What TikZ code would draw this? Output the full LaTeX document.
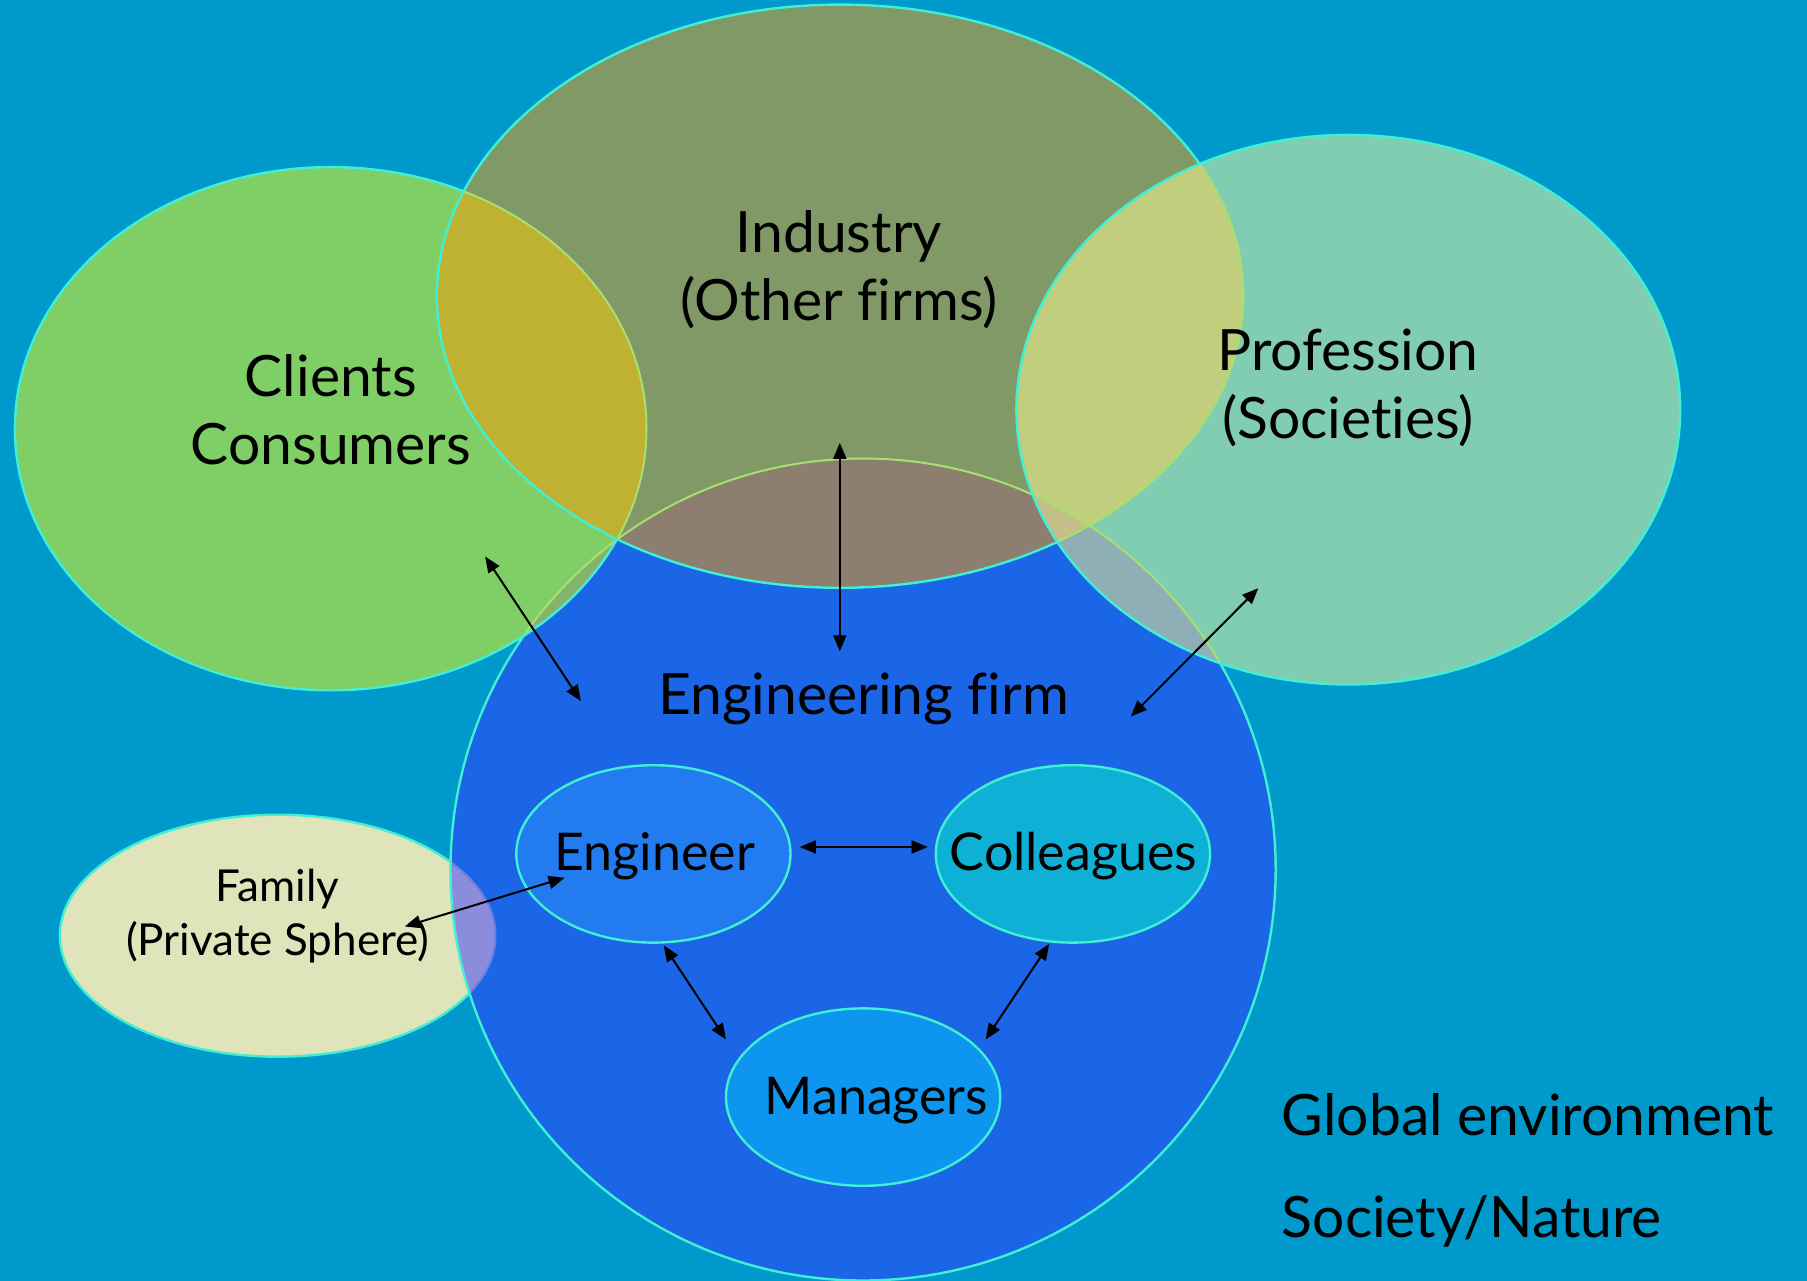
\documentclass[tikz,border=0pt]{standalone}
\usepackage{fontspec}
\setmainfont{Lato}[Ligatures=NoCommon]
\usetikzlibrary{arrows.meta}
\definecolor{bg}{HTML}{0099CC}
\definecolor{famC}{HTML}{E0E4BA}
\definecolor{firmC}{HTML}{1A66E6}
\definecolor{cliC}{HTML}{80CE66}
\definecolor{indC}{HTML}{809966}
\definecolor{proC}{HTML}{80CDB1}
\definecolor{engC}{HTML}{237CEF}
\definecolor{colC}{HTML}{0EB0D6}
\definecolor{manC}{HTML}{0D95EF}
\definecolor{famfirm}{HTML}{8C8CDD}
\definecolor{clifirm}{HTML}{85B26C}
\definecolor{indcli}{HTML}{BFB233}
\definecolor{indfirm}{HTML}{8C7F70}
\definecolor{indclifirm}{HTML}{A89A50}
\definecolor{proind}{HTML}{C0CE7E}
\definecolor{profirm}{HTML}{8FAFB7}
\definecolor{proindfirm}{HTML}{C4BF89}
\definecolor{edgeC}{HTML}{3FF0D4}
\definecolor{faintC}{HTML}{A8E070}
\tikzset{
  famP/.style={insert path={(277.7,935.7) ellipse [x radius=217.8pt, y radius=121pt]}},
  firmP/.style={insert path={(863.1,869.5) ellipse [x radius=412.6pt, y radius=411pt]}},
  cliP/.style={insert path={(330.7,428.7) ellipse [x radius=315.8pt, y radius=261.6pt]}},
  indP/.style={insert path={(840.1,296.2) ellipse [x radius=403.3pt, y radius=291.6pt]}},
  proP/.style={insert path={(1348.3,409.7) ellipse [x radius=331.9pt, y radius=274.8pt]}},
  engP/.style={insert path={(653.4,853.9) ellipse [x radius=137.1pt, y radius=88.7pt]}},
  colP/.style={insert path={(1072.9,853.9) ellipse [x radius=137.1pt, y radius=88.7pt]}},
  manP/.style={insert path={(863.1,1097.1) ellipse [x radius=137.1pt, y radius=88.7pt]}},
  rim/.style={draw=edgeC, line width=2.4pt},
  faint/.style={draw=faintC, line width=2pt},
  big/.style={font=\fontsize{57}{68}\selectfont, align=center, text=black, inner sep=0pt},
  mid/.style={font=\fontsize{52}{62}\selectfont, align=center, text=black, inner sep=0pt},
  small/.style={font=\fontsize{44}{54}\selectfont, align=center, text=black, inner sep=0pt},
  link/.style={{Triangle[length=16pt,width=13pt]}-{Triangle[length=16pt,width=13pt]}, line width=2pt, black}
}
\begin{document}
\begin{tikzpicture}[x=1pt,y=-1pt]
\fill[bg] (0,0) rectangle (1807,1281);
\useasboundingbox (0,0) rectangle (1807,1281);
% family
\fill[famC][famP];
\path[rim][famP];
% firm
\fill[firmC][firmP];
\begin{scope}
  \clip[firmP];
  \fill[famfirm][famP];
  \path[draw=famfirm!70!firmC, line width=2pt][famP];
\end{scope}
\path[rim][firmP];
% clients
\fill[cliC][cliP];
\begin{scope}
  \clip[cliP];
  \fill[clifirm][firmP];
  \path[faint][firmP];
\end{scope}
\path[rim][cliP];
% industry
\fill[indC][indP];
\begin{scope}
  \clip[indP];
  \fill[indcli][cliP];
  \fill[indfirm][firmP];
  \begin{scope}
    \clip[cliP];
    \fill[indclifirm][firmP];
  \end{scope}
  \path[faint][cliP];
  \path[faint][firmP];
\end{scope}
\path[rim][indP];
% profession
\fill[proC][proP];
\begin{scope}
  \clip[proP];
  \fill[proind][indP];
  \fill[profirm][firmP];
  \begin{scope}
    \clip[indP];
    \fill[proindfirm][firmP];
  \end{scope}
  \path[faint][indP];
  \path[faint][firmP];
\end{scope}
\path[rim][proP];
% inner ellipses
\fill[engC][engP]; \path[rim][engP];
\fill[colC][colP]; \path[rim][colP];
\fill[manC][manP]; \path[rim][manP];
% labels
\node[big] (tind) at (839,270) {Industry\\(Other firms)};
\node[big] (tcli) at (330.8,410) {Clients\\Consumers};
\node[big] (tpro) at (1348,388) {Profession\\(Societies)};
\node[big, anchor=base] (tfirm) at (863.6,714.5) {Engineering firm};
\node[small] (tfam) at (277.7,916) {Family\\(Private Sphere)};
\node[mid, anchor=base] (teng) at (654.6,870) {Engineer};
\node[mid, anchor=base] (tcol) at (1073.5,870.2) {Colleagues};
\node[mid, anchor=base] (tman) at (876.4,1114.4) {Managers};
\node[big, anchor=base west] (tglob) at (1281.7,1135) {Global environment};
\node[big, anchor=base west] (tsoc) at (1281.7,1237.6) {Society/Nature};
% arrow ends
\coordinate (c1) at (485.1,556.4);
\coordinate (f1) at (580.9,701.1);
\coordinate (i1) at (839.8,442.8);
\coordinate (f2) at (839.8,651.3);
\coordinate (p1) at (1258.3,588.2);
\coordinate (f3) at (1130.9,716.4);
\coordinate (e1) at (799.8,847);
\coordinate (k1) at (927.7,847);
\coordinate (m1) at (404.8,926.5);
\coordinate (e2) at (564.6,877.7);
\coordinate (e3) at (663.8,945.5);
\coordinate (n1) at (726,1039.5);
\coordinate (k2) at (1049.2,944);
\coordinate (n2) at (985.6,1039.5);
\draw[link] (c1) -- (f1);
\draw[link] (i1) -- (f2);
\draw[link] (p1) -- (f3);
\draw[link] (e1) -- (k1);
\draw[link] (m1) -- (e2);
\draw[link] (e3) -- (n1);
\draw[link] (k2) -- (n2);
\end{tikzpicture}
\end{document}
